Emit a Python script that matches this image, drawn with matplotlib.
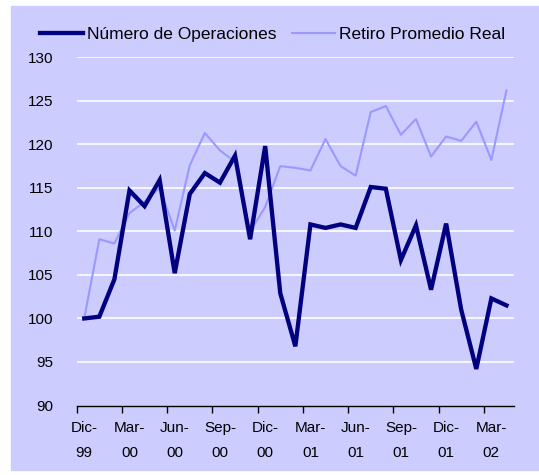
import matplotlib
matplotlib.use('Agg')
import matplotlib.pyplot as plt
import numpy as np
from matplotlib.patches import Rectangle

plt.rcParams['font.family'] = ['Liberation Sans', 'DejaVu Sans']

# monthly index, Dic-99 .. Abr-02
meses = ['Dic-99', 'Ene-00', 'Feb-00', 'Mar-00', 'Abr-00', 'May-00', 'Jun-00',
         'Jul-00', 'Ago-00', 'Sep-00', 'Oct-00', 'Nov-00', 'Dic-00', 'Ene-01',
         'Feb-01', 'Mar-01', 'Abr-01', 'May-01', 'Jun-01', 'Jul-01', 'Ago-01',
         'Sep-01', 'Oct-01', 'Nov-01', 'Dic-01', 'Ene-02', 'Feb-02', 'Mar-02',
         'Abr-02']
operaciones = [100.0, 100.2, 104.5, 114.7, 112.9, 115.9, 105.2, 114.3, 116.7,
               115.6, 118.7, 109.1, 119.8, 102.9, 96.8, 110.8, 110.4, 110.8,
               110.4, 115.1, 114.9, 106.7, 110.7, 103.3, 110.9, 101.0, 94.2,
               102.3, 101.5]
retiro = [100.0, 109.1, 108.6, 112.1, 113.4, 115.0, 110.1, 117.6, 121.3, 119.3,
          118.0, 110.0, 112.8, 117.5, 117.3, 117.0, 120.6, 117.5, 116.4, 123.7,
          124.4, 121.1, 122.9, 118.6, 120.9, 120.4, 122.6, 118.2, 126.2]

bg = '#CCCCFF'
fig = plt.figure(figsize=(5.39, 4.75), dpi=100)
fig.patches.append(Rectangle((11 / 539, 1 - 470 / 475), 528 / 539, 464 / 475,
                             transform=fig.transFigure, color=bg, zorder=-10))

ax = fig.add_axes([0.1423, 0.1463, 0.9536 - 0.1423, 0.8794 - 0.1463])
ax.set_zorder(1)
ax.set_facecolor(bg)
x = np.arange(len(meses))
ax.plot(x, operaciones, color='#000080', lw=3.1, solid_joinstyle='miter',
        label='Número de Operaciones', zorder=3)
ax.plot(x, retiro, color='#9999FF', lw=1.5, label='Retiro Promedio Real', zorder=2)

ax.set_xlim(-0.5, len(meses) - 0.5)
ax.set_ylim(90, 130)
ax.set_yticks(np.arange(90, 131, 5))
for v in range(95, 131, 5):
    ax.axhline(v, color='white', lw=1.2, zorder=1)

for s in ['top', 'right', 'left']:
    ax.spines[s].set_visible(False)
ax.spines['bottom'].set_linewidth(1.0)

ax.set_xticks(np.arange(-0.5, len(meses) - 1, 3))
ax.set_xticklabels([])
ax.tick_params(axis='x', which='major', length=5, direction='out', width=1)
ax.set_xticks(x[::3], minor=True)
ax.set_xticklabels([m.replace('-', '-\n') for m in meses[::3]], minor=True,
                   fontsize=11, linespacing=2.0)
ax.tick_params(axis='x', which='minor', length=0, pad=11)
ax.tick_params(axis='y', length=0, pad=17, labelsize=11)

fig.legend(loc='center left', bbox_to_anchor=(40 / 539, 1 - 34 / 475), ncol=2,
           frameon=False, fontsize=12.5, handlelength=2.5, handletextpad=0.2,
           columnspacing=0.9, borderaxespad=0, borderpad=0)

fig.savefig('out.png', dpi=100, facecolor='white')
